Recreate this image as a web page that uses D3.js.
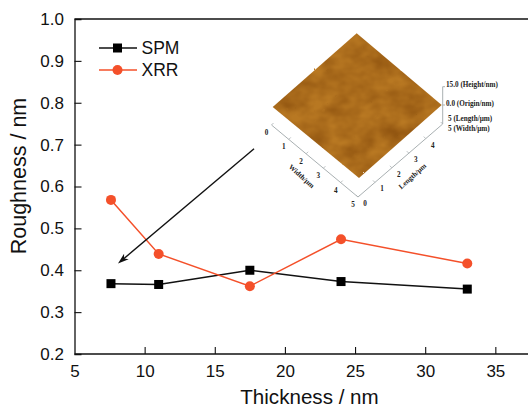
<!DOCTYPE html>
<html><head><meta charset="utf-8">
<script src="https://cdn.jsdelivr.net/npm/d3@7/dist/d3.min.js"></script>
<style>html,body{margin:0;padding:0;background:#fff}svg{display:block}text{font-family:"Liberation Sans",Arial,sans-serif;fill:#111}.s{font-family:"Liberation Serif",serif;font-weight:bold;font-size:7.2px;fill:#222}</style>
</head><body><svg id="c" width="528" height="408"></svg>
<script>
const thickness=[7.6,11,17.5,24,33];
const spm=[0.368,0.366,0.4,0.373,0.355];
const xrr=[0.568,0.439,0.362,0.474,0.416];
const xTicks=[5,10,15,20,25,30,35];
const yTicks=[0.2,0.3,0.4,0.5,0.6,0.7,0.8,0.9,1.0];
const arrowX=[17.8,8.1];
const arrowY=[0.69,0.416];
const insetUnits=[0,1,2,3,4,5];
const scaleLabels=["15.0 (Height/nm)","0.0 (Origin/nm)","5 (Length/\u03bcm)","5 (Width/\u03bcm)"];

const svg=d3.select("#c");
const x=d3.scaleLinear().domain([5,37.4]).range([74.5,529]);
const y=d3.scaleLinear().domain([0.2,1.0]).range([354,19]);
const red="#f4502a";
const defs=svg.append("defs");
const f=defs.append("filter").attr("id","tex").attr("color-interpolation-filters","sRGB").attr("x","0").attr("y","0").attr("width","1").attr("height","1");
f.append("feTurbulence").attr("type","fractalNoise").attr("baseFrequency","0.04 0.055").attr("numOctaves",3).attr("seed",11).attr("result","n");
f.append("feColorMatrix").attr("in","n").attr("type","matrix").attr("values","0 0 0 0 0.5  0 0 0 0 0.27  0 0 0 0 0.03  1.1 0 0 0 -0.3").attr("result","d");
f.append("feMerge").call(m=>{m.append("feMergeNode").attr("in","SourceGraphic");m.append("feMergeNode").attr("in","d");});
const e=defs.append("filter").attr("id","edge").attr("color-interpolation-filters","sRGB").attr("x","-0.05").attr("y","-0.05").attr("width","1.1").attr("height","1.1");
e.append("feTurbulence").attr("type","fractalNoise").attr("baseFrequency","0.15").attr("numOctaves",2).attr("seed",3).attr("result","n");
e.append("feDisplacementMap").attr("in","SourceGraphic").attr("in2","n").attr("scale",1.8).attr("result","g");
e.append("feGaussianBlur").attr("in","g").attr("stdDeviation",0.5);

// axes
const ink="#111";
const axB=svg.append("g").attr("transform",`translate(0,${y(0.2)})`).call(d3.axisBottom(x).tickValues(xTicks).tickSize(-7).tickPadding(11).tickFormat(d3.format("d")));
const axL=svg.append("g").attr("transform",`translate(${x(5)},0)`).call(d3.axisLeft(y).tickValues(yTicks).tickSize(-7).tickPadding(10.5).tickFormat(d3.format(".1f")));
svg.append("line").attr("x1",x(5)).attr("x2",528).attr("y1",y(1)).attr("y2",y(1)).attr("stroke",ink).attr("stroke-width",1.3);
[axB,axL].forEach(a=>{a.selectAll("path.domain").attr("stroke",ink).attr("stroke-width",1.3);a.selectAll("line").attr("stroke",ink).attr("stroke-width",1.1);a.selectAll("text").attr("font-size",17).attr("fill",ink).attr("font-family","Liberation Sans");});
axB.select("path.domain").attr("d",`M${x(5)},0H528`);
axL.selectAll(".tick").filter(d=>d===0.2||d===1).select("line").remove();
axB.selectAll(".tick").filter(d=>d===5).select("line").remove();
svg.append("text").attr("x",309.5).attr("y",404).attr("text-anchor","middle").attr("font-size",20.6).text("Thickness / nm");
svg.append("text").attr("transform",`translate(25.5,176) rotate(-90)`).attr("text-anchor","middle").attr("font-size",21.5).text("Roughness / nm");

// inset (3D surface sketch)
const origin=[271.5,125], wEnd=[358,197], lEnd=[442.7,124];
const wp=t=>[origin[0]+(wEnd[0]-origin[0])*t/5,origin[1]+(wEnd[1]-origin[1])*t/5];
const lp=t=>[wEnd[0]+(lEnd[0]-wEnd[0])*t/5,wEnd[1]+(lEnd[1]-wEnd[1])*t/5];
const grey="#a9b0b2";
const ins=svg.append("g");
const surf=[[356.7,33.3],[441.7,105],[359,178],[272.7,107]];
const cp=defs.append("clipPath").attr("id","dia");
cp.append("polygon").attr("points",surf.join(" "));
ins.append("g").attr("filter","url(#edge)").append("g").attr("clip-path","url(#dia)").append("rect").attr("x",270).attr("y",30).attr("width",175).attr("height",150).attr("fill","#b87822").attr("filter","url(#tex)");
ins.append("path").attr("d",d3.line()([origin,wEnd,lEnd])).attr("fill","none").attr("stroke",grey).attr("stroke-width",1);
ins.append("path").attr("d",d3.line()([lEnd,[lEnd[0],86.7],[445,86.7]])).attr("fill","none").attr("stroke",grey).attr("stroke-width",1);
ins.append("line").attr("x1",lEnd[0]).attr("x2",445).attr("y1",105).attr("y2",105).attr("stroke",grey);
insetUnits.forEach(t=>{
  const a=wp(t), b=lp(t);
  ins.append("line").attr("x1",a[0]).attr("y1",a[1]).attr("x2",a[0]+2).attr("y2",a[1]-2).attr("stroke",grey).attr("stroke-width",.8);
  ins.append("line").attr("x1",b[0]).attr("y1",b[1]).attr("x2",b[0]-2).attr("y2",b[1]-2).attr("stroke",grey).attr("stroke-width",.8);
  ins.append("text").attr("class","s").attr("x",a[0]-5).attr("y",a[1]+10).attr("text-anchor","middle").text(t);
  if(t<5) ins.append("text").attr("class","s").attr("x",b[0]+7).attr("y",b[1]+9).attr("text-anchor","middle").text(t);
});
ins.append("text").attr("class","s").attr("text-anchor","middle").attr("transform","translate(300,178) rotate(42)").text("Width/\u03bcm");
ins.append("text").attr("class","s").attr("text-anchor","middle").attr("transform","translate(414,178) rotate(-42)").text("Length/\u03bcm");
const sy=[87,106,121,131];
scaleLabels.forEach((s,i)=>ins.append("text").attr("class","s").attr("x",i<2?446:448).attr("y",sy[i]).text(s));

// series
const line=d3.line().x(d=>x(d[0])).y(d=>y(d[1]));
const blackPts=d3.zip(thickness,spm), redPts=d3.zip(thickness,xrr);
svg.append("path").attr("d",line(blackPts)).attr("fill","none").attr("stroke","#111").attr("stroke-width",1.5);
svg.append("path").attr("d",line(redPts)).attr("fill","none").attr("stroke",red).attr("stroke-width",1.5);
svg.selectAll("rect.m").data(blackPts).join("rect").attr("class","m").attr("x",d=>x(d[0])-4.5).attr("y",d=>y(d[1])-4.5).attr("width",9).attr("height",9).attr("fill","#000");
svg.selectAll("circle.m").data(redPts).join("circle").attr("class","m").attr("cx",d=>x(d[0])).attr("cy",d=>y(d[1])).attr("r",5).attr("fill",red);

// arrow
const ax0=x(arrowX[0]),ay0=y(arrowY[0]),ax1=x(arrowX[1]),ay1=y(arrowY[1]);
const ang=Math.atan2(ay1-ay0,ax1-ax0);
svg.append("line").attr("x1",ax0).attr("y1",ay0).attr("x2",ax1-6*Math.cos(ang)).attr("y2",ay1-6*Math.sin(ang)).attr("stroke","#111").attr("stroke-width",1.4);
svg.append("path").attr("transform",`translate(${ax1},${ay1}) rotate(${ang*180/Math.PI})`).attr("d","M0,0L-11,-3.6L-8,0L-11,3.6Z").attr("fill","#111");

// legend
const lg=svg.append("g");
[["SPM","#111",48],["XRR",red,70]].forEach(([n,c,yy])=>{
  lg.append("line").attr("x1",99).attr("x2",137).attr("y1",yy).attr("y2",yy).attr("stroke",c).attr("stroke-width",1.5);
  if(n==="SPM") lg.append("rect").attr("x",113).attr("y",yy-4.5).attr("width",9).attr("height",9).attr("fill","#000");
  else lg.append("circle").attr("cx",117.5).attr("cy",yy).attr("r",5).attr("fill",c);
  lg.append("text").attr("x",141.5).attr("y",yy+6).attr("font-size",17.5).text(n);
});
</script></body></html>
